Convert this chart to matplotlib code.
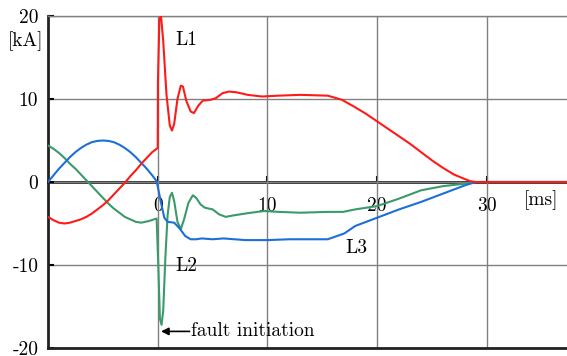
import matplotlib
matplotlib.use("Agg")
import matplotlib.pyplot as plt

plt.rcParams['font.family'] = ['cmr10', 'DejaVu Serif']
plt.rcParams['mathtext.fontset'] = 'cm'
plt.rcParams['axes.unicode_minus'] = False
plt.rcParams['axes.formatter.use_mathtext'] = True

# ---- data (time in ms, current in kA) ----
l1_t = [-10, -9.5, -9, -8.5, -8, -7.5, -7, -6.5, -6, -5.5, -5, -4.5, -4, -3.5, -3, -2.5, -2, -1.5,
        -1, -0.5, 0, 0.02, 0.15, 0.3, 0.5, 0.8, 1.1, 1.3,
        1.5, 1.8, 2.1, 2.3, 2.6, 3.0, 3.3, 3.7, 4.1, 4.8, 5.3, 5.9, 6.5, 7.2, 8.2, 9.5, 11, 13,
        15.5, 16.8, 18, 19, 20, 21, 22, 23, 24, 25, 26, 27, 28, 28.5, 29, 37.3]
l1_i = [-4.2, -4.6, -4.9, -5.0, -4.9, -4.7, -4.5, -4.2, -3.8, -3.3, -2.8, -2.2, -1.5, -0.8, -0.1,
        0.7, 1.4, 2.2, 2.9, 3.6, 4.1, 12, 19.6, 20, 17, 10.5,
        6.8, 6.2, 7.0, 10.0, 11.6, 11.5, 9.8, 8.5, 8.3, 9.2, 9.8, 9.9, 10.1, 10.7, 10.9, 10.8, 10.5,
        10.3, 10.4, 10.5, 10.4, 9.9, 9.0, 8.2, 7.3, 6.4, 5.5, 4.6, 3.6, 2.6, 1.7, 0.9, 0.35, 0.1, 0, 0]

l2_t = [-10, -9.5, -9, -8.5, -8, -7.5, -7, -6.5, -6, -5.5, -5, -4.5, -4, -3.5, -3, -2.5, -2, -1.5,
        -0.8, -0.1, 0.05, 0.2, 0.35, 0.5, 0.7, 0.9, 1.1,
        1.3, 1.5, 1.8, 2.1, 2.4, 2.8, 3.2, 3.5, 3.9, 4.3, 5, 5.6, 6.2, 7, 8.5, 9.7, 11, 13, 15.5,
        16.9, 18, 20, 22, 24, 26, 28, 29, 37.3]
l2_i = [4.4, 4.0, 3.5, 2.9, 2.2, 1.6, 0.9, 0.2, -0.5, -1.2, -1.9, -2.6, -3.2, -3.7, -4.2, -4.5,
        -4.8, -4.9, -4.7, -4.4, -10, -16.5, -17.2,
        -15.5, -9, -4, -1.8, -1.3, -2.3, -4.8, -5.7, -4.5, -2.5, -1.6, -1.9, -2.7, -3.1, -3.3, -3.9,
        -4.2, -4.0, -3.7, -3.5, -3.6, -3.7, -3.6, -3.6, -3.3, -2.9, -2.0, -1.0, -0.5, -0.2, 0, 0]

l3_t = [-10, -9.5, -9, -8.5, -8, -7.5, -7, -6.5, -6, -5.5, -5, -4.5, -4, -3.5, -3, -2.5, -2, -1.5,
        -1, -0.5, -0.1, 0.3, 0.6, 0.9, 1.5, 2.0, 2.5, 3.0, 3.5, 4,
        5, 6, 8, 10, 12, 15.5, 17, 18, 20, 22, 24, 26, 28, 29, 37.3]
l3_i = [0, 0.8, 1.6, 2.3, 3.0, 3.6, 4.1, 4.5, 4.8, 4.95, 5.0, 4.95, 4.8, 4.5, 4.1, 3.6, 3.0, 2.3,
        1.6, 0.8, 0.1, -2.5, -4.3, -4.8, -4.9, -5.6, -6.5,
        -6.9, -6.9, -6.8, -6.9, -6.8, -7.0, -7.0, -6.9, -6.9, -6.2, -5.3, -4.3, -3.3, -2.4, -1.4,
        -0.4, 0, 0]

x_ticks = [0, 10, 20, 30]
y_ticks = [-20, -10, 0, 10, 20]
y_labels = ['-20', '-10', '0', '10', '20']

RED = '#ff1a1a'
GREEN = '#3a9a6a'
BLUE = '#1c6fd6'
FS = 14

fig = plt.figure(figsize=(5.67, 3.56), dpi=100)
ax = fig.add_axes([48/567, 8/356, 1 - 48/567, 332/356])
ax.set_xlim(-10, 37.3)
ax.set_ylim(-20, 20)

# grid
ax.set_xticks(x_ticks)
ax.set_xticklabels([])
ax.tick_params(axis='x', length=0)
ax.set_yticks(y_ticks)
ax.set_yticklabels(y_labels, fontsize=FS)
ax.tick_params(axis='y', direction='in', length=4, width=1.5, pad=7)
ax.grid(True, color='#808080', linewidth=1.0)
ax.set_axisbelow(True)

ax.spines['right'].set_visible(False)
ax.spines['top'].set_color('#808080')
ax.spines['top'].set_linewidth(1.0)
ax.spines['left'].set_color('#222222')
ax.spines['left'].set_linewidth(2.0)
ax.spines['bottom'].set_color('#222222')
ax.spines['bottom'].set_linewidth(2.0)

# zero axis with x labels below it
sec = ax.secondary_xaxis(0.5)
sec.set_alignment('bottom')
sec.set_xticks(x_ticks)
sec.set_xticklabels([str(v) for v in x_ticks], fontsize=FS)
sec.tick_params(direction='in', length=4, width=1.5, pad=11)
for s in ('bottom', 'top'):
    sec.spines[s].set_linewidth(2.0)
    sec.spines[s].set_color('#222222')

ax.plot(l2_t, l2_i, color=GREEN, linewidth=1.5, zorder=3)
ax.plot(l3_t, l3_i, color=BLUE, linewidth=1.5, zorder=3)
ax.plot(l1_t, l1_i, color=RED, linewidth=1.5, zorder=4)

ax.text(1.6, 17.1, 'L1', fontsize=FS, va='center', ha='left')
ax.text(1.6, -10.1, 'L2', fontsize=FS, va='center', ha='left')
ax.text(17.1, -7.9, 'L3', fontsize=FS, va='center', ha='left')
ax.text(34.9, -2.2, '[ms]', fontsize=FS, va='center', ha='center')
ax.text(-10.4, 17.0, '[kA]', fontsize=FS, va='center', ha='right', clip_on=False)

ax.annotate('', xy=(0.3, -18.0), xytext=(2.9, -18.0),
            arrowprops=dict(arrowstyle='-|>', color='black', lw=1.2,
                            mutation_scale=11, shrinkA=0, shrinkB=0))
ax.text(3.0, -17.9, 'fault initiation', fontsize=FS, va='center', ha='left')

fig.savefig('out.png', dpi=100)
